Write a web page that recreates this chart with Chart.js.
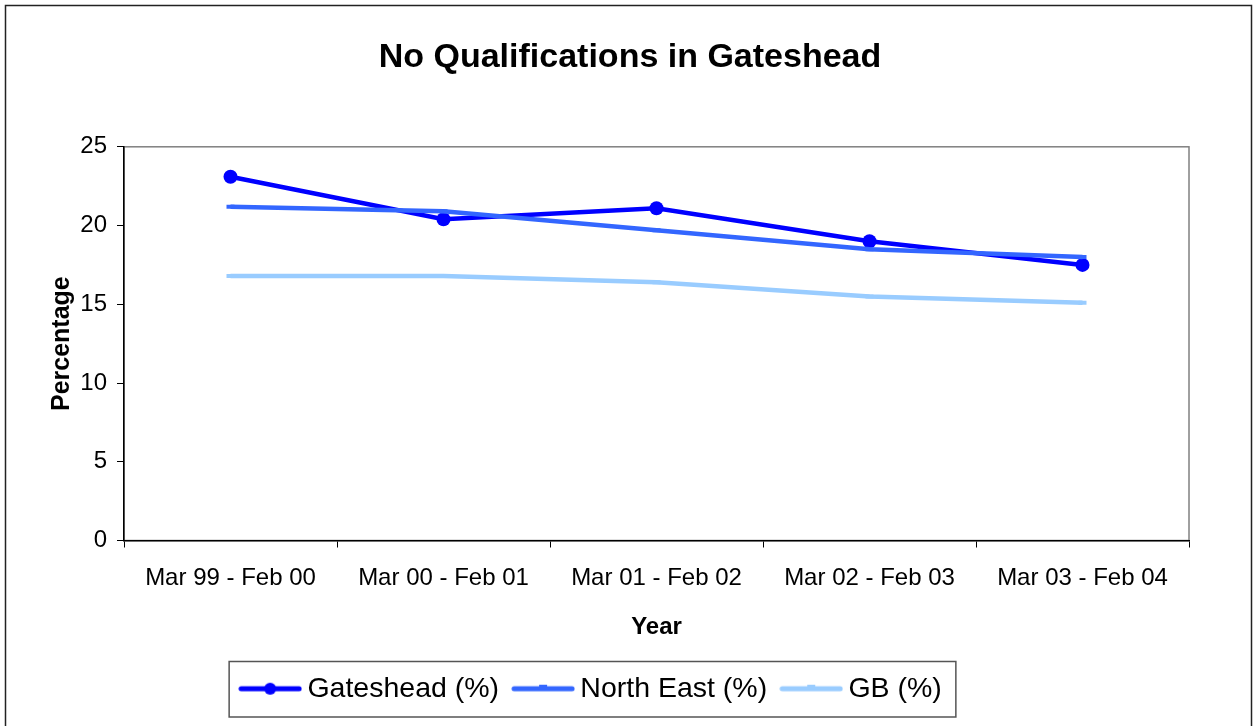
<!DOCTYPE html>
<html>
<head>
<meta charset="utf-8">
<title>No Qualifications in Gateshead</title>
<script src="https://cdn.jsdelivr.net/npm/chart.js@4/dist/chart.umd.min.js"></script>
<style>
  html, body { margin: 0; padding: 0; background: #fff; }
  #wrap { width: 1254px; height: 726px; }
</style>
</head>
<body>
<div id="wrap"><canvas id="qualChart" width="1254" height="726"></canvas></div>
<script>
// survey years and % of working-age people with no qualifications
const years = ['Mar 99 - Feb 00', 'Mar 00 - Feb 01', 'Mar 01 - Feb 02', 'Mar 02 - Feb 03', 'Mar 03 - Feb 04'];
const gateshead = [23.1, 20.4, 21.1, 19.0, 17.5];
const northEast = [21.2, 20.9, 19.7, 18.5, 18.0];
const gb = [16.8, 16.8, 16.4, 15.5, 15.1];
const yTicks = [0, 5, 10, 15, 20, 25];

const FONT = "'Liberation Sans', Arial, Helvetica, sans-serif";

// little line+marker swatches for the legend, excel style
function swatch(color, marker) {
  const c = document.createElement('canvas');
  c.width = 64; c.height = 16;
  const g = c.getContext('2d');
  g.strokeStyle = color;
  g.lineWidth = 5;
  g.lineCap = 'round';
  g.beginPath(); g.moveTo(3, 8); g.lineTo(61, 8); g.stroke();
  g.fillStyle = color;
  if (marker === 'circle') {
    g.beginPath(); g.arc(32, 8, 6, 0, Math.PI * 2); g.fill();
  } else {
    g.fillRect(28, 4, 8, 4);
  }
  return c;
}

// outer chart frame + plot frame + legend frame
const frames = {
  id: 'frames',
  afterLayout(chart) {
    // centre the title on the whole frame, not just the plot side
    chart.titleBlock.left = 6;
    chart.titleBlock.right = 1254;
  },
  beforeDraw(chart) {
    const { ctx, chartArea: a } = chart;
    ctx.save();
    ctx.fillStyle = '#fff';
    ctx.fillRect(0, 0, chart.width, chart.height);
    ctx.strokeStyle = '#222';
    ctx.lineWidth = 1.5;
    ctx.strokeRect(5.5, 5.5, 1246, 740);
    ctx.strokeStyle = '#808080';
    ctx.lineWidth = 1.5;
    ctx.strokeRect(a.left, a.top, a.right - a.left, a.bottom - a.top);
    ctx.restore();
  },
  afterDraw(chart) {
    const boxes = chart.legend.legendHitBoxes;
    if (!boxes || !boxes.length) return;
    const l = Math.min(...boxes.map(b => b.left)) - 18;
    const r = Math.max(...boxes.map(b => b.left + b.width)) + 14;
    const t = boxes[0].top - 13;
    const b = boxes[0].top + boxes[0].height + 14;
    const ctx = chart.ctx;
    ctx.save();
    ctx.strokeStyle = '#555';
    ctx.lineWidth = 1.5;
    ctx.strokeRect(l, t, r - l, b - t);
    ctx.restore();
  }
};

new Chart(document.getElementById('qualChart'), {
  type: 'line',
  data: {
    labels: years,
    datasets: [
      { label: 'Gateshead (%)', data: gateshead, borderColor: '#0000FF', backgroundColor: '#0000FF',
        borderWidth: 4.5, pointStyle: 'circle', pointRadius: 7, pointBorderWidth: 0,
        legendSwatch: swatch('#0000FF', 'circle'), order: 3 },
      { label: 'North East (%)', data: northEast, borderColor: '#3366FF', backgroundColor: '#3366FF',
        borderWidth: 4.5, pointStyle: 'line', pointRadius: 4, pointBorderWidth: 4,
        legendSwatch: swatch('#3366FF', 'dash'), order: 2 },
      { label: 'GB (%)', data: gb, borderColor: '#99CCFF', backgroundColor: '#99CCFF',
        borderWidth: 4.5, pointStyle: 'line', pointRadius: 4, pointBorderWidth: 4,
        legendSwatch: swatch('#99CCFF', 'dash'), order: 1 }
    ]
  },
  options: {
    responsive: false,
    animation: false,
    layout: { padding: { left: 0, right: 65, top: 0, bottom: 13 } },
    plugins: {
      title: {
        display: true,
        text: 'No Qualifications in Gateshead',
        color: '#000',
        font: { family: FONT, size: 34, weight: 'bold', lineHeight: 1.2 },
        padding: { top: 37, bottom: 69 }
      },
      legend: {
        position: 'bottom',
        labels: {
          usePointStyle: true,
          pointStyleWidth: 46,
          padding: 21,
          color: '#000',
          font: { family: FONT, size: 28.5 },
          generateLabels(chart) {
            return chart.data.datasets.map((ds, i) => ({
              text: ds.label,
              pointStyle: ds.legendSwatch,
              fillStyle: ds.borderColor,
              strokeStyle: ds.borderColor,
              lineWidth: 0,
              hidden: false,
              datasetIndex: i
            }));
          }
        }
      },
      tooltip: { enabled: false }
    },
    scales: {
      x: {
        offset: true,
        grid: { offset: true, drawOnChartArea: false, drawTicks: true, tickLength: 7, color: '#000' },
        border: { color: '#000', width: 1.5 },
        ticks: { color: '#000', padding: 16, font: { family: FONT, size: 24 }, maxRotation: 0 },
        title: { display: true, text: 'Year', color: '#000',
                 font: { family: FONT, size: 24, weight: 'bold', lineHeight: 1.2 },
                 padding: { top: 0, bottom: 12 } },
        afterFit(s) { s.height = 113; }
      },
      y: {
        min: 0,
        max: 25,
        afterBuildTicks(s) { s.ticks = yTicks.map(v => ({ value: v })); },
        grid: { drawOnChartArea: false, drawTicks: true, tickLength: 7, color: '#000' },
        border: { color: '#000', width: 1.5 },
        ticks: { color: '#000', padding: 10, font: { family: FONT, size: 24 } },
        title: { display: true, text: 'Percentage', color: '#000',
                 font: { family: FONT, size: 25, weight: 'bold', lineHeight: 1.2 },
                 padding: { top: 47, bottom: 0 } },
        afterFit(s) { s.width = 124; }
      }
    }
  },
  plugins: [frames]
});
</script>
</body>
</html>
